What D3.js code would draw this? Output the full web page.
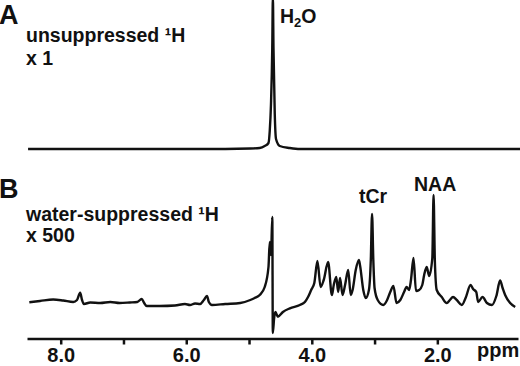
<!DOCTYPE html>
<html>
<head>
<meta charset="utf-8">
<script src="https://cdn.jsdelivr.net/npm/d3@7"></script>
<style>
  body { margin: 0; background: #fff; }
  text { font-family: "Liberation Sans", Arial, sans-serif; font-weight: bold; fill: #111; }
</style>
</head>
<body>
<svg id="nmr" width="520" height="366"></svg>
<script>
// Panel A: unsuppressed spectrum (ppm, relative intensity)
const ppmA = [8.52, 5.78, 4.98, 4.83, 4.75, 4.69, 4.67, 4.65, 4.63, 4.62, 4.61, 4.59, 4.57, 4.51, 4.35, 4.19, 0.68];
const intA = [0, 0, 0.5, 1, 3, 6, 18, 45, 100, 152, 100, 35, 10, 3, 1, 0, 0];

// Panel B: water-suppressed spectrum x 500
const ppmB = [8.50, 8.33, 8.12, 7.96, 7.80, 7.74, 7.69, 7.66, 7.63, 7.53, 7.37, 7.21, 7.06, 6.90, 6.78,
  6.71, 6.67, 6.63, 6.42, 6.18, 6.02, 5.94, 5.86, 5.78, 5.72, 5.67, 5.64, 5.59, 5.38, 5.14,
  4.98, 4.91, 4.83, 4.75, 4.69, 4.67, 4.65, 4.629, 4.621, 4.60, 4.58, 4.54, 4.46, 4.35, 4.19,
  4.11, 4.06, 4.01, 3.96, 3.91, 3.86, 3.81, 3.74, 3.68, 3.65, 3.61, 3.58, 3.55, 3.51, 3.47,
  3.42, 3.38, 3.35, 3.30, 3.25, 3.23, 3.18, 3.14, 3.09, 3.06, 3.04, 3.02, 3.00, 2.95, 2.86,
  2.80, 2.75, 2.70, 2.65, 2.59, 2.53, 2.49, 2.45, 2.42, 2.38, 2.34, 2.29, 2.24, 2.21, 2.17,
  2.13, 2.08, 2.06, 2.04, 2.01, 1.93, 1.85, 1.80, 1.75, 1.69, 1.61, 1.55, 1.47, 1.43, 1.38,
  1.35, 1.28, 1.21, 1.13, 1.06, 1.00, 0.96, 0.92, 0.84, 0.76];
const intB = [2.7, 4, 5.5, 4.5, 3, 5, 12.3, 5, 1, 2.5, 2, 3, 2, 2.5, 3,
  6, 2, -1, -1, -0.5, 1, 0, 1.5, 1, 5, 9, 3, 0, 1, 2,
  5, 7, 10, 18, 38, 63, 50, 88, -28, -13, -7, -11.7, -7, -3.3, 0,
  3, 8, 15, 22, 44, 18, 25, 43, 10, 20, 28, 13, 27, 10, 20,
  35, 10, 15, 35, 45, 39, 15, 7, 15, 45, 91, 45, 17, 5, 0,
  5, 13, 19, 2, 5, 13, 18, 15, 25, 47, 14, 15, 20, 30, 38,
  29, 47, 110, 45, 15, 8, 2, 5, 8, 5, 0, 7, 20, 16, 13,
  3, 8, 2, 0, 9, 24.5, 17, 10, 2, -2];

const tickVals = [8, 7, 6, 5, 4, 3, 2];

const svg = d3.select("#nmr");

// shared ppm axis (reversed)
const x = d3.scaleLinear().domain([8.537, 0.715]).range([27, 518]);
const yA = d3.scaleLinear().domain([0, 149]).range([149, 0]);
const yB = d3.scaleLinear().domain([0, 110]).range([305, 195]);

const dataA = ppmA.map((p, i) => ({ ppm: p, v: intA[i] }));
const dataB = ppmB.map((p, i) => ({ ppm: p, v: intB[i] }));

svg.append("path")
    .datum(dataA)
    .attr("fill", "none")
    .attr("stroke", "#111")
    .attr("stroke-width", 2.4)
    .attr("stroke-linejoin", "round")
    .attr("d", d3.line().x(d => x(d.ppm)).y(d => yA(d.v)).curve(d3.curveMonotoneX));

svg.append("path")
    .datum(dataB)
    .attr("fill", "none")
    .attr("stroke", "#111")
    .attr("stroke-width", 2.4)
    .attr("stroke-linejoin", "round")
    .attr("d", d3.line().x(d => x(d.ppm)).y(d => yB(d.v)).curve(d3.curveMonotoneX));

// axis
const axis = svg.append("g")
    .attr("transform", "translate(0,338.5)")
    .call(d3.axisBottom(x)
        .tickValues(tickVals)
        .tickSize(6)
        .tickSizeOuter(0)
        .tickPadding(3)
        .tickFormat(d => d % 2 === 0 ? d.toFixed(1) : ""));
axis.select(".domain").attr("stroke", "#111").attr("stroke-width", 2.5);
axis.selectAll(".tick line").attr("stroke", "#111").attr("stroke-width", 2.5);
axis.selectAll(".tick text")
    .style("font-size", "20px")
    .attr("fill", "#111");

svg.append("text").attr("x", 477).attr("y", 357).style("font-size", "20px").text("ppm");

// panel labels
svg.append("text").attr("x", -1).attr("y", 24).style("font-size", "27px").text("A");
svg.append("text").attr("x", 26).attr("y", 42).style("font-size", "19.5px").text("unsuppressed ¹H");
svg.append("text").attr("x", 26).attr("y", 65).style("font-size", "19.5px").text("x 1");

svg.append("text").attr("x", -1).attr("y", 198).style("font-size", "27px").text("B");
svg.append("text").attr("x", 26).attr("y", 221).style("font-size", "19.5px").text("water-suppressed ¹H");
svg.append("text").attr("x", 26).attr("y", 242).style("font-size", "19.5px").text("x 500");

// peak labels
const h2o = svg.append("text").attr("x", 280).attr("y", 23).style("font-size", "19.5px");
h2o.append("tspan").text("H");
h2o.append("tspan").attr("dy", 4).style("font-size", "13px").text("2");
h2o.append("tspan").attr("dy", -4).text("O");

svg.append("text").attr("x", 359).attr("y", 203).style("font-size", "19.5px").text("tCr");
svg.append("text").attr("x", 414).attr("y", 191).style("font-size", "19.5px").text("NAA");
</script>
</body>
</html>
